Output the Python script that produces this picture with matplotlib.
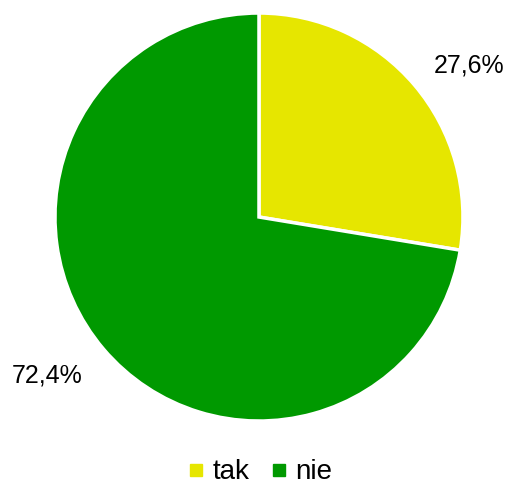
import numpy as np
import matplotlib.pyplot as plt
from matplotlib.lines import Line2D

labels = ["tak", "nie"]
values = [27.6, 72.4]
colors = ["#E6E600", "#009900"]

plt.rcParams['font.family'] = ['Liberation Sans', 'DejaVu Sans']

fig = plt.figure(figsize=(5.10, 4.86), dpi=100)
ax = fig.add_axes([0.1078, 0.1337, 0.8, 0.8395])

wedges, texts, autotexts = ax.pie(
    values, colors=colors, startangle=90, counterclock=False,
    autopct=lambda p: f"{p:.1f}%".replace(".", ","), pctdistance=1.27,
    wedgeprops=dict(edgecolor="white", linewidth=2.5),
    textprops=dict(fontsize=18, color="black"))
ax.set_xlim(-1, 1)
ax.set_ylim(-1, 1)
ax.set_aspect("equal")

# label placement (angle in degrees, distance in radii)
label_pos = [(35.8, 1.27), (216.8, 1.30)]
for t, (a, d) in zip(autotexts, label_pos):
    t.set_position((d * np.cos(np.radians(a)), d * np.sin(np.radians(a))))
    t.set_clip_on(False)

handles = [Line2D([], [], marker="s", linestyle="none", markersize=8,
                  markerfacecolor=c, markeredgecolor=c) for c in colors]
fig.legend(handles, labels, loc="center", bbox_to_anchor=(0.51, 0.028),
           ncol=2, frameon=False, fontsize=20, handlelength=0.6,
           handletextpad=0.3, columnspacing=0.75)

fig.savefig("out.png", dpi=100)
